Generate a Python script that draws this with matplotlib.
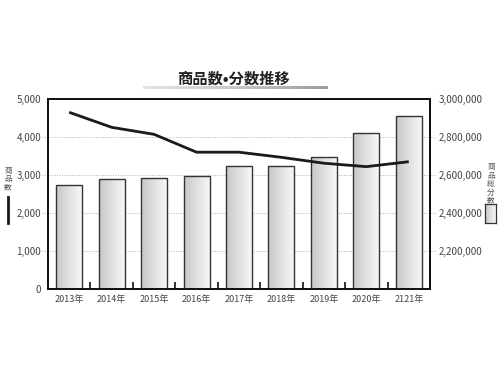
import numpy as np
import matplotlib
matplotlib.use("Agg")
import matplotlib.pyplot as plt
from matplotlib.colors import LinearSegmentedColormap
from matplotlib.lines import Line2D

plt.rcParams["font.family"] = ["Noto Sans CJK JP", "DejaVu Sans"]

# ---- data ----
years = ["2013年", "2014年", "2015年", "2016年", "2017年",
         "2018年", "2019年", "2020年", "2121年"]
item_count = [4650, 4255, 4070, 3600, 3600, 3465, 3310, 3220, 3350]        # 商品数 (line, left)
total_count = [2550000, 2580000, 2585000, 2595000, 2650000,
               2645000, 2695000, 2820000, 2910000]                          # 商品総分数 (bars, right)
left_ticks = [0, 1000, 2000, 3000, 4000, 5000]
right_ticks = [2200000, 2400000, 2600000, 2800000, 3000000]

W, H = 500, 375
bar_cmap = LinearSegmentedColormap.from_list("bar", ["#c8c8c8", "#f7f7f7"])
grad = np.linspace(0, 1, 64).reshape(1, -1)

fig = plt.figure(figsize=(5, 3.75), dpi=100)
ax = fig.add_axes([48 / W, 1 - 289 / H, 382 / W, 190 / H])
ax_line = ax.twinx()

x = np.arange(len(years))

# bars on ax (right scale), gradient fill clipped to each bar
bars = ax.bar(x, np.array(total_count) - 2000000, bottom=2000000, width=0.61,
              facecolor="none", edgecolor="#333333", linewidth=1.0, zorder=3)
for rect in bars:
    x0, y0 = rect.get_x(), rect.get_y()
    im = ax.imshow(grad, extent=[x0, x0 + rect.get_width(), y0, y0 + rect.get_height()],
                   aspect="auto", cmap=bar_cmap, zorder=2, interpolation="bicubic")
    im.set_clip_path(rect)
ax.set_xlim(-0.5, len(years) - 0.5)
ax.set_ylim(2000000, 3000000)

# dotted gridlines, poking slightly out of the frame like ticks
for v in right_ticks[:-1]:
    ax.hlines(v, -0.016, 1.016, transform=ax.get_yaxis_transform(),
              colors="#b0b0b0", linestyles=(0, (1, 1.5)), linewidth=0.7,
              clip_on=False, zorder=1)

ax.yaxis.tick_right()
ax.set_yticks(right_ticks)
ax.set_yticklabels([f"{v:,}" for v in right_ticks])
ax.tick_params(axis="y", length=0, pad=6, labelsize=7, labelcolor="#444444")

ax.set_xticks(x)
ax.set_xticklabels(years)
ax.tick_params(axis="x", length=0, pad=4, labelsize=6.5, labelcolor="#444444")
ax.set_xticks(x[:-1] + 0.5, minor=True)
ax.tick_params(axis="x", which="minor", direction="in", length=5, width=1.2, color="#111111")

# line on twin (left scale)
ax_line.plot(x, item_count, color="#1a1a1a", linewidth=2.0,
             solid_joinstyle="round", solid_capstyle="butt", zorder=4)
ax_line.set_ylim(0, 5000)
ax_line.yaxis.tick_left()
ax_line.set_yticks(left_ticks)
ax_line.set_yticklabels([f"{v:,}" for v in left_ticks])
ax_line.tick_params(axis="y", length=0, pad=5, labelsize=7, labelcolor="#444444")

for a in (ax, ax_line):
    for s in a.spines.values():
        s.set_color("#111111")
        s.set_linewidth(1.3)

# title with gradient underline
fig.text(233 / W, 1 - 79 / H, "商品数•分数推移", ha="center", va="center",
         fontsize=11, fontweight="bold", color="#222222")
ax_u = fig.add_axes([143 / W, 1 - 89 / H, 185 / W, 3 / H])
ax_u.imshow(grad, aspect="auto", interpolation="bicubic",
            cmap=LinearSegmentedColormap.from_list("u", ["#e4e4e4", "#c8c8c8", "#9c9c9c"]))
ax_u.axis("off")

# left legend: 商品数 + line
fig.text(8 / W, 1 - 179 / H, "商\n品\n数", ha="center", va="center",
         fontsize=5.5, color="#555555", linespacing=1.08)
fig.add_artist(Line2D([8 / W, 8 / W], [1 - 197 / H, 1 - 223 / H], color="#1a1a1a", linewidth=2))

# right legend: 商品総分数 + bar swatch
fig.text(491 / W, 1 - 184 / H, "商\n品\n総\n分\n数", ha="center", va="center",
         fontsize=5.5, color="#555555", linespacing=1.08)
ax_b = fig.add_axes([485 / W, 1 - 223 / H, 11 / W, 19 / H])
ax_b.imshow(grad, aspect="auto", cmap=bar_cmap, interpolation="bicubic")
ax_b.set_xticks([])
ax_b.set_yticks([])
for s in ax_b.spines.values():
    s.set_color("#333333")
    s.set_linewidth(0.9)

fig.savefig("out.png", dpi=100)
